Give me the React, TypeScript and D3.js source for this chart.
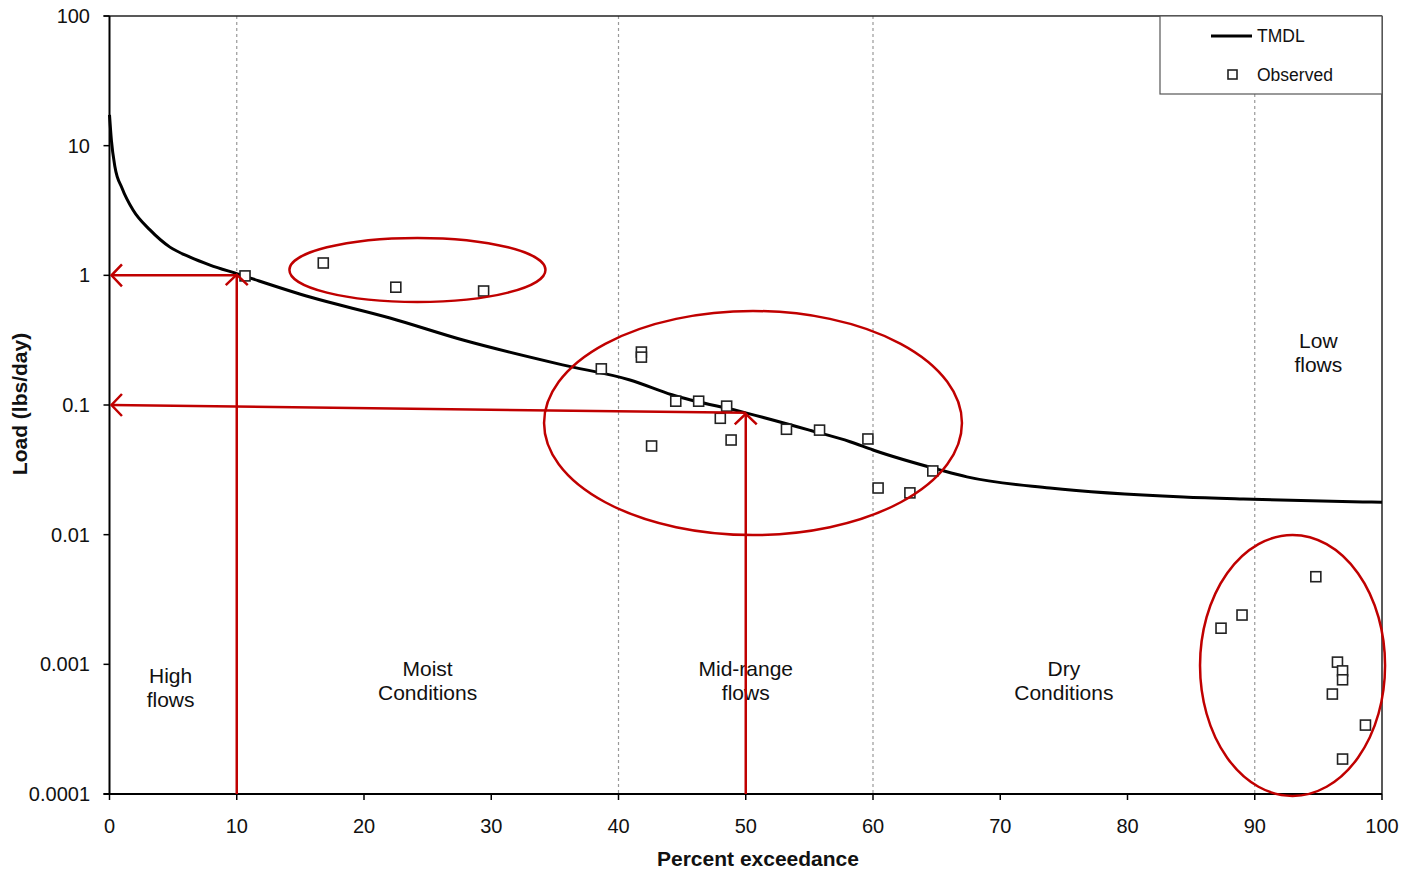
import React from "react";
import * as d3 from "d3";

// TMDL load duration curve (percent exceedance, lbs/day)
const tmdlX = [0, 0.15, 0.43, 0.98, 1.85, 3.18, 4.75, 6.33, 7.9, 10, 15.76, 22.04, 27.78, 35.6, 40.9, 44.2, 50, 55, 58.2, 60, 65.26, 67.38, 73.9, 84.4, 89.1, 98.5, 100];
const tmdlY = [17.3, 11, 6.86, 4.72, 3.19, 2.24, 1.65, 1.38, 1.2, 1.03, 0.68, 0.469, 0.317, 0.204, 0.156, 0.12, 0.087, 0.064, 0.0521, 0.045, 0.0316, 0.0279, 0.0229, 0.0195, 0.0188, 0.0179, 0.0178];

// observed loads
const obsX = [10.65, 16.8, 22.5, 29.4, 38.65, 41.8, 41.8, 42.6, 44.5, 46.3, 48.5, 48.0, 48.85, 53.2, 55.8, 59.6, 60.4, 62.9, 64.7, 94.8, 89.0, 87.35, 96.5, 96.9, 96.9, 96.1, 98.7, 96.9];
const obsY = [0.99, 1.245, 0.81, 0.757, 0.19, 0.256, 0.234, 0.0483, 0.107, 0.107, 0.098, 0.079, 0.0537, 0.065, 0.064, 0.0547, 0.0229, 0.021, 0.031, 0.00474, 0.0024, 0.0019, 0.00104, 0.00089, 0.00076, 0.00059, 0.00034, 0.000186];

const xTicks = [0, 10, 20, 30, 40, 50, 60, 70, 80, 90, 100];
const yTicks = [0.0001, 0.001, 0.01, 0.1, 1, 10, 100];
const yTickLabels = ["0.0001", "0.001", "0.01", "0.1", "1", "10", "100"];
const gridX = [10, 40, 60, 90];

// flow regime labels
const zoneNames = [["High", "flows"], ["Moist", "Conditions"], ["Mid-range", "flows"], ["Dry", "Conditions"], ["Low", "flows"]];
const zoneX = [4.8, 25, 50, 75, 95];
const zoneY = [0.00075, 0.00085, 0.00085, 0.00085, 0.18];

// ellipses: centre x, centre load, x radius, radius in decades
const ellCx = [24.2, 50.57, 92.97];
const ellCy = [1.1, 0.0726, 0.00098];
const ellRx = [10.06, 16.42, 7.27];
const ellRy = [0.247, 0.864, 1.006];

// arrows: from the curve at 10% and 50% back to the load axis
const arrowPct = [10, 50];
const arrowFrom = [1, 0.087];
const arrowTip = [1.03, 0.087];
const arrowLoad = [1, 0.1];

const red = "#C00000";
const font = "Liberation Sans, Arial, sans-serif";

export default function App() {
  const W = 1406;
  const H = 872;
  const left = 109.5;
  const right = 1382;
  const top = 16;
  const bottom = 794;

  const x = d3.scaleLinear().domain([0, 100]).range([left, right]);
  const y = d3.scaleLog().domain([0.0001, 100]).range([bottom, top]);
  const decade = y(1) - y(10);

  const tmdl = tmdlX.map((v, i) => [v, tmdlY[i]] as [number, number]);
  const line = d3
    .line<[number, number]>()
    .x(d => x(d[0]))
    .y(d => y(d[1]))
    .curve(d3.curveMonotoneX);

  const head = (px: number, py: number, dir: string) => {
    const s = 11;
    if (dir === "left") return `M${px + s * 0.95},${py - s} L${px},${py} L${px + s * 0.95},${py + s}`;
    return `M${px - s},${py + s * 0.95} L${px},${py} L${px + s},${py + s * 0.95}`;
  };

  return (
    <svg width={W} height={H} style={{ display: "block", position: "absolute", left: 0, top: 0, background: "#fff" }} fontFamily={font}>
      {/* dotted grid */}
      {gridX.map(g => (
        <line key={g} x1={x(g)} x2={x(g)} y1={top} y2={bottom} stroke="#999" strokeWidth={1.2} strokeDasharray="3,3" />
      ))}

      {/* frame */}
      <line x1={left - 6} x2={right} y1={top} y2={top} stroke="#222" strokeWidth={1.5} />
      <line x1={right} x2={right} y1={top} y2={bottom} stroke="#222" strokeWidth={1.5} />

      {/* y axis */}
      <line x1={left} x2={left} y1={top} y2={bottom} stroke="#000" strokeWidth={2} />
      {yTicks.map((t, i) => (
        <g key={t}>
          <line x1={left - 6} x2={left} y1={y(t)} y2={y(t)} stroke="#000" strokeWidth={1.5} />
          <text x={90} y={y(t)} dy="0.35em" textAnchor="end" fontSize={20} fill="#111">{yTickLabels[i]}</text>
        </g>
      ))}

      {/* x axis */}
      <line x1={left - 6} x2={right} y1={bottom} y2={bottom} stroke="#000" strokeWidth={2} />
      {xTicks.map(t => (
        <g key={t}>
          <line x1={x(t)} x2={x(t)} y1={bottom} y2={bottom + 6} stroke="#000" strokeWidth={1.5} />
          <text x={x(t)} y={826} dy="0.35em" textAnchor="middle" fontSize={20} fill="#111">{t}</text>
        </g>
      ))}

      <text x={758} y={859} dy="0.35em" textAnchor="middle" fontSize={21} fontWeight="bold" fill="#111">Percent exceedance</text>
      <text transform={`translate(20, 404) rotate(-90)`} dy="0.35em" textAnchor="middle" fontSize={21} fontWeight="bold" fill="#111">Load (lbs/day)</text>

      {/* zone labels */}
      {zoneNames.map((z, i) => (
        <text key={i} x={x(zoneX[i])} y={y(zoneY[i])} textAnchor="middle" fontSize={21} fill="#111">
          <tspan x={x(zoneX[i])} dy={i === 4 ? "-1.15em" : "0.1em"}>{z[0]}</tspan>
          <tspan x={x(zoneX[i])} dy="1.15em">{z[1]}</tspan>
        </text>
      ))}

      {/* TMDL curve */}
      <path d={line(tmdl) || ""} fill="none" stroke="#000" strokeWidth={3} />

      {/* observed */}
      {obsX.map((v, i) => (
        <rect key={i} x={x(v) - 5} y={y(obsY[i]) - 5} width={10} height={10} fill="#fff" stroke="#222" strokeWidth={1.6} />
      ))}

      {/* ellipses */}
      {ellCx.map((c, i) => (
        <ellipse key={i} cx={x(c)} cy={y(ellCy[i])} rx={x(ellRx[i]) - x(0)} ry={ellRy[i] * decade} fill="none" stroke={red} strokeWidth={2.5} />
      ))}

      {/* arrows */}
      {arrowPct.map((p, i) => {
        const px = x(p);
        const pyFrom = y(arrowFrom[i]);
        const pyTip = y(arrowTip[i]);
        return (
          <g key={p} fill="none" stroke={red} strokeWidth={2.5}>
            <line x1={px} x2={left + 2} y1={pyFrom} y2={y(arrowLoad[i])} />
            <path d={head(left + 2, y(arrowLoad[i]), "left")} />
            <line x1={px} x2={px} y1={bottom} y2={pyTip + 1} />
            <path d={head(px, pyTip + 1, "up")} />
          </g>
        );
      })}

      {/* legend */}
      <rect x={1160} y={top} width={right - 1160} height={78} fill="#fff" stroke="#555" strokeWidth={1.2} />
      <line x1={1211} x2={1252} y1={36} y2={36} stroke="#000" strokeWidth={3} />
      <text x={1257} y={36} dy="0.35em" fontSize={17.5} fill="#111">TMDL</text>
      <rect x={1228} y={70} width={9} height={9} fill="#fff" stroke="#222" strokeWidth={1.6} />
      <text x={1257} y={75} dy="0.35em" fontSize={17.5} fill="#111">Observed</text>
    </svg>
  );
}
